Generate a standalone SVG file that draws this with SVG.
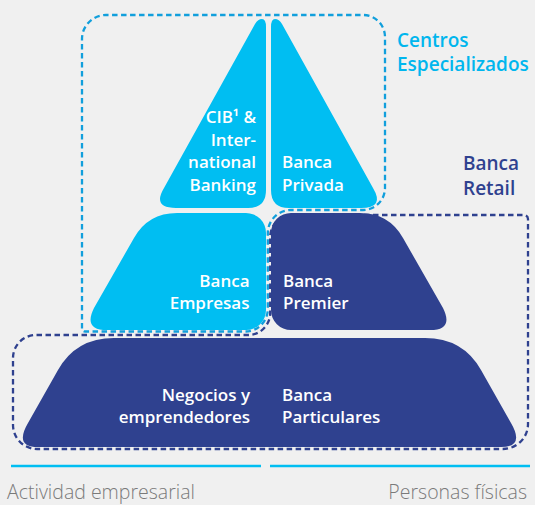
<svg xmlns="http://www.w3.org/2000/svg" width="535" height="505" viewBox="0 0 535 505">
<style>
.cyan{fill:#00bef2}
.navy{fill:#2f418f}
.lbl{font-family:"Open Sans","Noto Sans",sans-serif;font-weight:600;font-size:17px;fill:#ffffff}
.end{text-anchor:end}
.ttl{font-family:"Open Sans","Noto Sans",sans-serif;font-weight:600;font-size:19px}
.axis{font-family:"Open Sans","Noto Sans",sans-serif;font-weight:300;font-size:19.5px;fill:#7a7a7a}
.dash{fill:none;stroke-width:2.3;stroke-dasharray:5.5 3.5}
</style>
<rect x="0" y="0" width="535" height="505" fill="#f0f0f0"/>

<g id="cib">
<path class="cyan" d="M 262,19 Q 266,19 266,27 L 266,190 Q 266,208 248,208 L 176,208 Q 152,208 164,188 L 255,24 Q 258,19 262,19 Z"/>
<text class="lbl end"><tspan x="256" y="123">CIB¹ &amp;</tspan><tspan x="256" y="145.5">Inter-</tspan><tspan x="256" y="168">national</tspan><tspan x="256" y="190.5">Banking</tspan></text>
</g>

<g id="banca-privada">
<path class="cyan" d="M 275,19 Q 279,19 282,24 L 373,188 Q 385,208 361,208 L 289,208 Q 271,208 271,190 L 271,27 Q 271,19 275,19 Z"/>
<text class="lbl"><tspan x="282" y="168">Banca</tspan><tspan x="282" y="190.5">Privada</tspan></text>
</g>

<g id="banca-empresas">
<path class="cyan" d="M 246,213 L 177,213 Q 148,213 134,238 L 94,308 Q 83,330 107,330 L 246,330 A 20 20 0 0 0 266,310 L 266,233 A 20 20 0 0 0 246,213 Z"/>
<text class="lbl end"><tspan x="249.5" y="287">Banca</tspan><tspan x="249.5" y="309">Empresas</tspan></text>
</g>

<g id="banca-premier">
<path class="navy" d="M 291,213 L 360,213 Q 389,213 403,238 L 443,308 Q 454,330 430,330 L 291,330 A 20 20 0 0 1 271,310 L 271,233 A 20 20 0 0 1 291,213 Z"/>
<text class="lbl"><tspan x="283" y="287">Banca</tspan><tspan x="283" y="309">Premier</tspan></text>
</g>

<g id="negocios-particulares">
<path class="navy" d="M 114,338 L 425,338 Q 463,338 481,370 L 511,423 Q 525,447 501,447 L 38,447 Q 14,447 28,423 L 58,370 Q 76,338 114,338 Z"/>
<text class="lbl end"><tspan x="250" y="401">Negocios y</tspan><tspan x="250" y="423">emprendedores</tspan></text>
<text class="lbl"><tspan x="282" y="401">Banca</tspan><tspan x="282" y="423">Particulares</tspan></text>
</g>

<g id="connectors">
<path id="centros-especializados-boundary" class="dash" stroke="#119fdc" d="M 82,328.5 L 82,39 A 24 24 0 0 1 106,15 L 363,15 A 22 22 0 0 1 385,37 L 385,188 A 22 22 0 0 1 363,210 L 291,210 A 23.2 23.2 0 0 0 267.8,233.2 L 267.8,309 A 22.5 22.5 0 0 1 245.3,331.5 L 85,331.5 A 3 3 0 0 1 82,328.5 Z"/>
<path id="banca-retail-boundary" class="dash" stroke="#2f418f" d="M 292,215 L 524,215 A 4 4 0 0 1 528,219 L 528,424 A 25 25 0 0 1 503,449 L 37,449 A 24 24 0 0 1 13,425 L 13,358 A 23 23 0 0 1 36,335 L 248,335 A 22 22 0 0 0 270.2,313 L 270.2,237 A 22 22 0 0 1 292,215 Z"/>
<line x1="11" y1="466" x2="261" y2="466" stroke="#00bef2" stroke-width="2.3"/>
<line x1="270" y1="466" x2="530" y2="466" stroke="#00bef2" stroke-width="2.3"/>
</g>

<g id="centros-especializados">
<text class="ttl" fill="#00b6ee"><tspan x="397" y="47">Centros</tspan><tspan x="397" y="71">Especializados</tspan></text>
</g>
<g id="banca-retail">
<text class="ttl" fill="#2f418f"><tspan x="463" y="170">Banca</tspan><tspan x="463" y="195">Retail</tspan></text>
</g>
<g id="axis-labels">
<text class="axis" x="7" y="499">Actividad empresarial</text>
<text class="axis" x="527" y="499" text-anchor="end">Personas físicas</text>
</g>
</svg>
